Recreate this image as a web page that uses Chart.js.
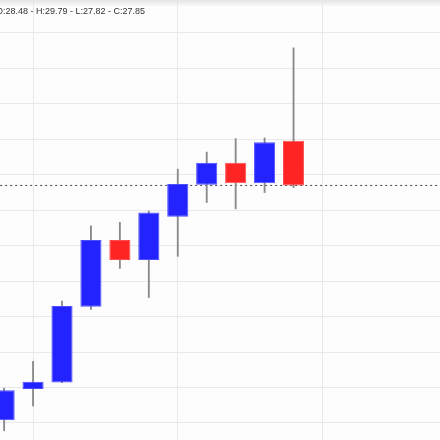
<!DOCTYPE html>
<html>
<head>
<meta charset="utf-8">
<script src="https://cdn.jsdelivr.net/npm/chart.js@4"></script>
<style>
  html, body { margin: 0; padding: 0; background: #fdfdfd; overflow: hidden; }
  #wrap { position: relative; width: 440px; height: 440px; overflow: hidden; }
  #shade { position: absolute; left: 0; top: 0; width: 440px; height: 7px;
    background: linear-gradient(#e4e4e4, rgba(253,253,253,0)); pointer-events: none; }
  #ohlc { position: absolute; left: -4px; top: 6px; font: 9px "Liberation Sans", Arial, sans-serif;
    color: #333; white-space: nowrap; }
</style>
</head>
<body>
<div id="wrap">
  <canvas id="chart" width="440" height="440"></canvas>
  <div id="shade"></div>
  <div id="ohlc"></div>
</div>
<script>
// candle slots (visible part of the series)
const slots = [0, 1, 2, 3, 4, 5, 6, 7, 8, 9, 10];
const opens  = [24.54, 24.98, 25.07, 26.14, 27.08, 26.80, 27.41, 27.86, 28.17, 27.88, 28.48];
const closes = [24.96, 25.08, 26.15, 27.08, 26.80, 27.47, 27.87, 28.17, 27.88, 28.46, 27.85];
const highs  = [24.99, 25.37, 26.22, 27.28, 27.33, 27.49, 28.08, 28.32, 28.51, 28.52, 29.79];
const lows   = [24.39, 24.74, 25.07, 26.10, 26.68, 26.27, 26.85, 27.61, 27.52, 27.75, 27.82];
const priceTicks = [24.5, 25, 25.5, 26, 26.5, 27, 27.5, 28, 28.5, 29, 29.5, 30];
const timeTicks = [1, 6, 11, 16];

const last = slots.length - 1;
document.getElementById("ohlc").textContent =
  "O:" + opens[last].toFixed(2) + " - H:" + highs[last].toFixed(2) +
  " - L:" + lows[last].toFixed(2) + " - C:" + closes[last].toFixed(2);

const bodyColors = slots.map((i) => (closes[i] >= opens[i] ? "#2323ff" : "#ff2424"));
const edgeColors = slots.map((i) => (closes[i] >= opens[i] ? "#4d4dff" : "#ff4d4d"));

const ctx = document.getElementById("chart").getContext("2d");
const chart = new Chart(ctx, {
  data: {
    datasets: [
      {
        type: "bar",
        data: slots.map((i) => ({ x: i, y: [opens[i], closes[i]] })),
        backgroundColor: bodyColors,
        borderColor: edgeColors,
        borderWidth: 1,
        borderSkipped: false,
        grouped: false,
        barPercentage: 0.73,
        categoryPercentage: 1,
      },
      {
        type: "bar",
        data: slots.map((i) => ({ x: i, y: [lows[i], highs[i]] })),
        backgroundColor: "#8a8a8a",
        barThickness: 1.2,
        grouped: false,
      },
      {
        // last close price line
        type: "line",
        data: [
          { x: -1, y: closes[last] },
          { x: 16, y: closes[last] },
        ],
        borderColor: "#444",
        borderWidth: 1,
        borderDash: [2, 3],
        pointRadius: 0,
      },
    ],
  },
  options: {
    responsive: false,
    animation: false,
    layout: { padding: 0 },
    plugins: { legend: { display: false }, tooltip: { enabled: false } },
    scales: {
      x: {
        type: "linear",
        offset: false,
        min: -0.142,
        max: 15.06,
        afterBuildTicks: (scale) => {
          scale.ticks = timeTicks.map((v) => ({ value: v }));
        },
        ticks: { display: false },
        grid: { color: "#e9e9e9", drawTicks: false, offset: false },
        border: { display: false },
      },
      y: {
        type: "linear",
        min: 24.26,
        max: 30.465,
        afterBuildTicks: (scale) => {
          scale.ticks = priceTicks.map((v) => ({ value: v }));
        },
        ticks: { display: false },
        grid: { color: "#e9e9e9", drawTicks: false },
        border: { display: false },
      },
    },
  },
});
</script>
</body>
</html>
